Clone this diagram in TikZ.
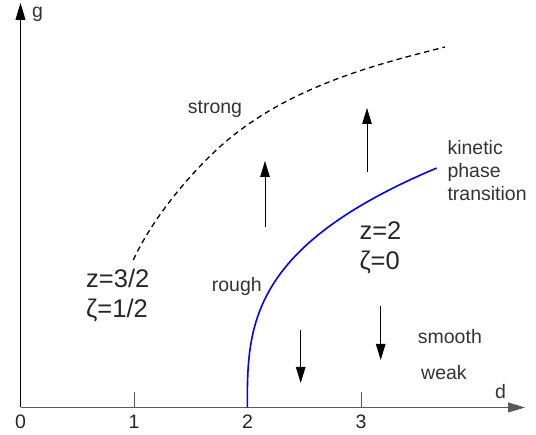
\documentclass[tikz,border=0pt]{standalone}
\usepackage{fontspec}
\setmainfont{Liberation Sans}
\usetikzlibrary{arrows.meta}

\begin{document}
\begin{tikzpicture}[x=1pt, y=-1pt,
  tip/.style={-{Triangle[length=16pt, width=9.5pt]}, line width=0.9pt},
  lbl/.style={anchor=base west, inner sep=0pt, text=black!80, font=\fontsize{19.5}{23}\selectfont},
  big/.style={anchor=north west, inner sep=0pt, align=left, text=black!85, font=\fontsize{25.5}{30.3}\selectfont},
  tick/.style={anchor=base, inner sep=0pt, text=black!85, font=\fontsize{19.5}{23}\selectfont}]
\useasboundingbox (0,0) rectangle (536,435);

% axes
\coordinate (o) at (20.5,407.5);
\coordinate (xend) at (525,407.5);
\coordinate (yend) at (20.5,3);
\draw[tip, black!65, -{Triangle[length=17pt, width=10pt]}] (o) -- (xend);
\draw[tip, black, -{Triangle[length=17pt, width=10pt]}] (o) -- (yend);
\node[lbl] (g) at (32,18) {g};
\node[lbl] (d) at (495,399) {d};
\node[tick] (t0) at (20.5,429) {0};
\foreach \x/\n in {134/1, 247.5/2, 361/3} {
  \draw[black!65, line width=0.9pt] (\x,392) -- (\x,407.5);
  \node[tick] (t\n) at (\x,429) {\n};
}

% phase boundaries
\coordinate (s0) at (133.3,260);
\coordinate (s1) at (220,146.7);
\coordinate (s2) at (445,47);
\draw[black, line width=1.3pt, dash pattern=on 5.5pt off 4pt]
  (s0) .. controls (154.3,214.5) and (194,170.1) .. (s1)
       .. controls (286.9,86.5) and (377.2,64.2) .. (s2);
% g ~ (d-2)^(1/3)
\draw[blue, line width=1.6pt] plot[smooth, variable=\t, domain=0:5.742, samples=80]
  ({247.3+\t*\t*\t}, {407.5-41.7*\t});

% flow arrows
\coordinate (u1a) at (265,226.7);
\coordinate (u1b) at (265,161);
\coordinate (u2a) at (367,172);
\coordinate (u2b) at (367,108);
\coordinate (d1a) at (300.7,330);
\coordinate (d1b) at (300.7,383);
\coordinate (d2a) at (380.7,305.7);
\coordinate (d2b) at (380.7,360);
\draw[tip] (u1a) -- (u1b);
\draw[tip] (u2a) -- (u2b);
\draw[tip] (d1a) -- (d1b);
\draw[tip] (d2a) -- (d2b);

% labels
\node[lbl] (strong) at (187.7,113.3) {strong};
\node[lbl] (rough) at (211.7,291.7) {rough};
\node[lbl] (smooth) at (417.7,344) {smooth};
\node[lbl] (weak) at (421,380) {weak};
\node[lbl, anchor=north west, align=left] (kpt) at (447.3,140) {kinetic\\phase\\transition};
\node[big] (ew) at (359.3,221) {z=2\\ζ=0};
\node[big] (kpz) at (86,268.7) {z=3/2\\ζ=1/2};
\end{tikzpicture}
\end{document}
